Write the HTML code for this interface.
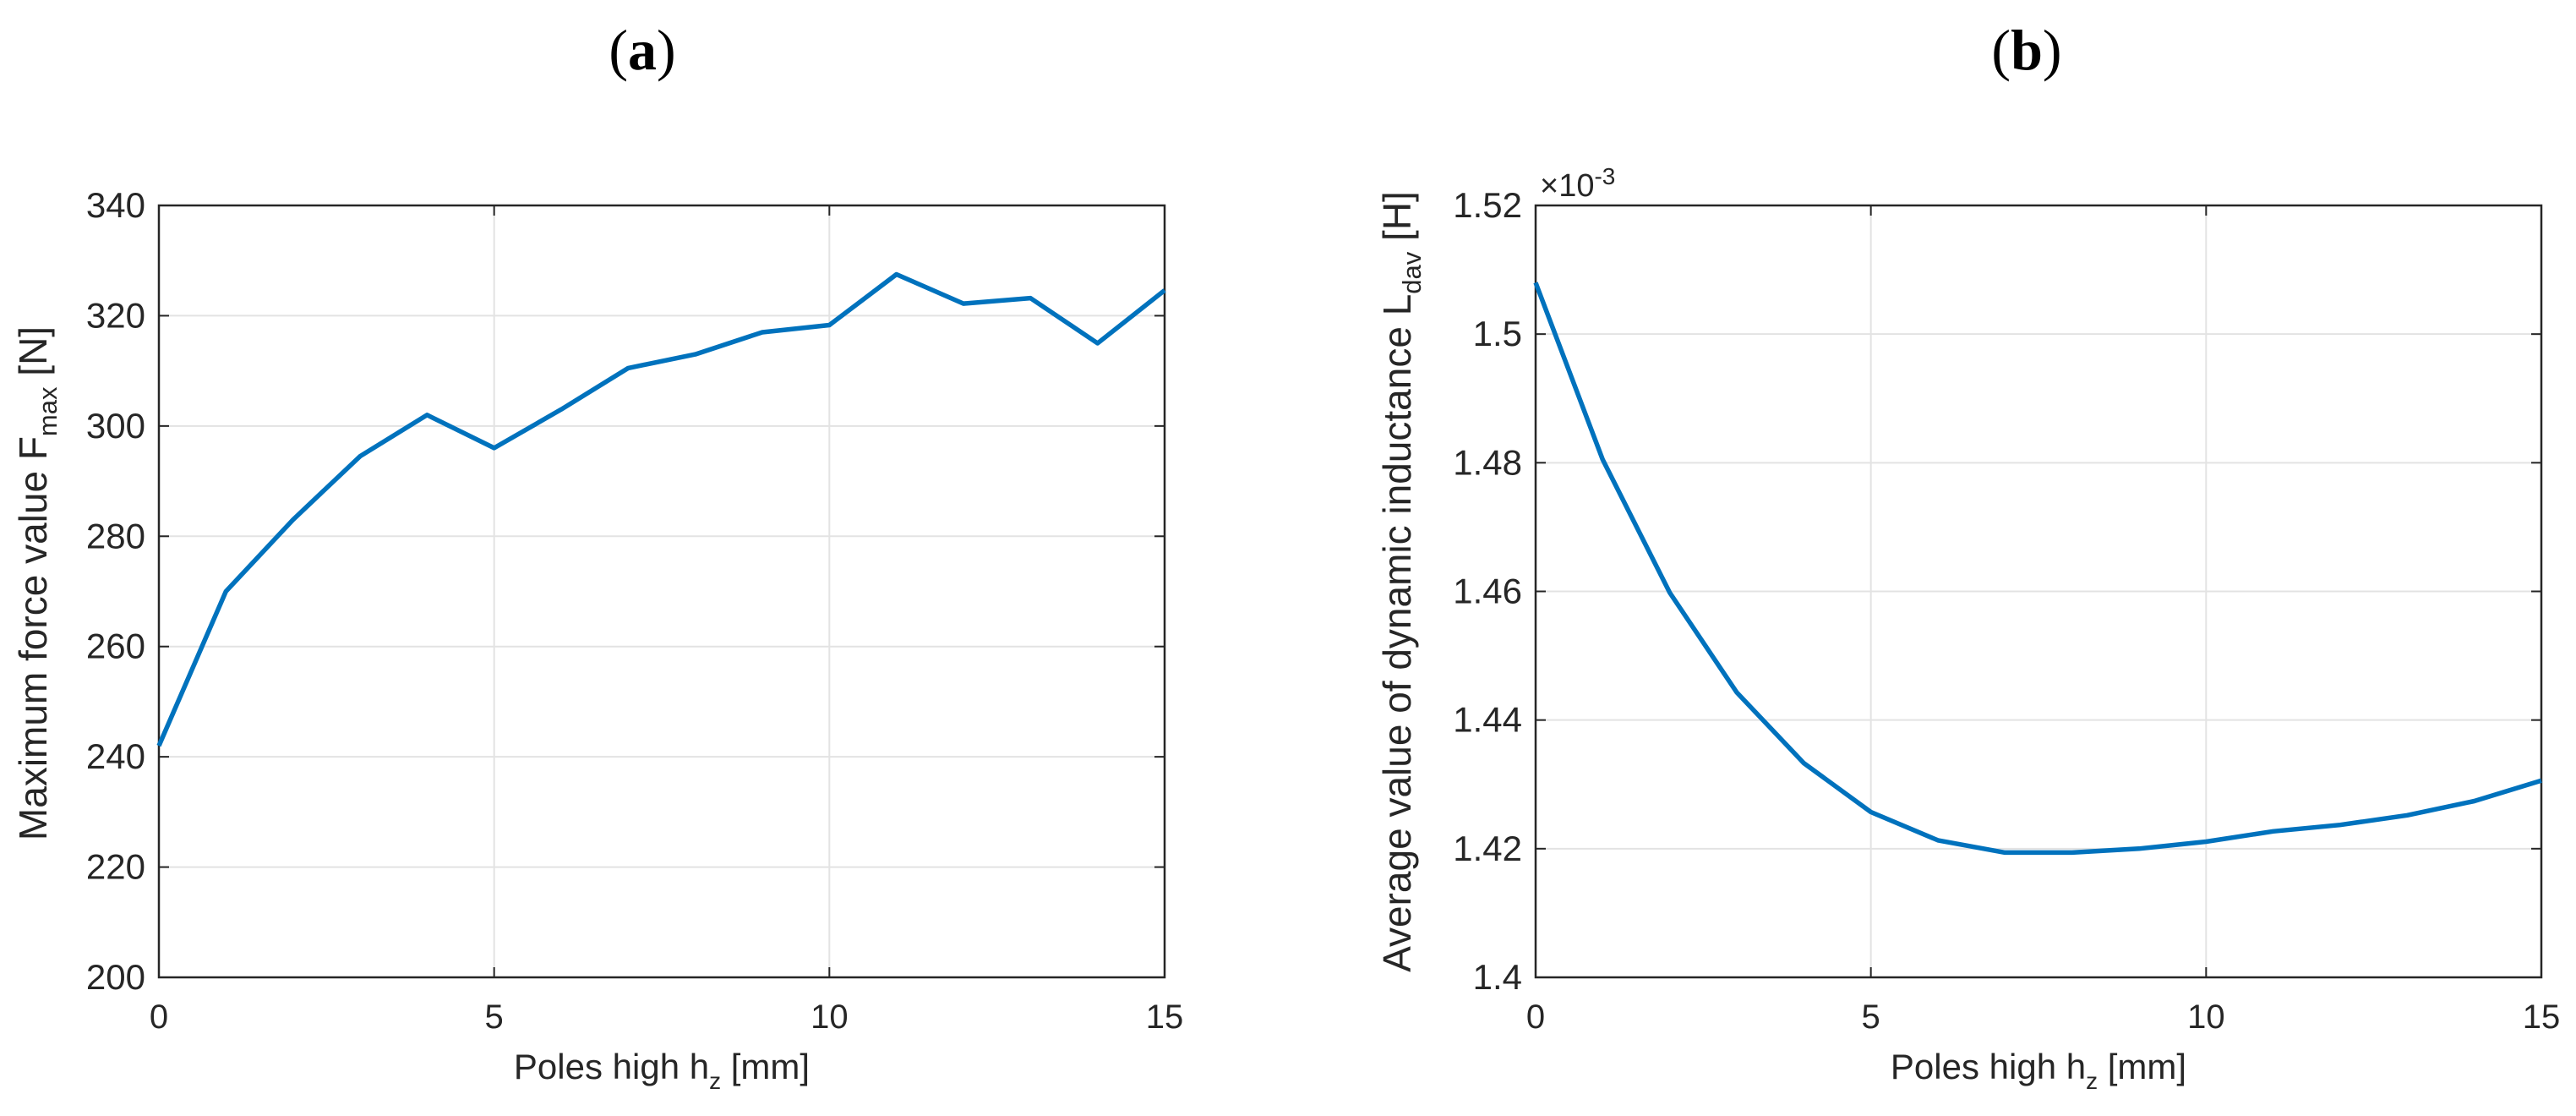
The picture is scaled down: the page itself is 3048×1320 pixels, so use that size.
<!DOCTYPE html>
<html><head><meta charset="utf-8"><style>
html,body{margin:0;padding:0;background:#fff;}
svg{display:block;}
text{font-family:"Liberation Sans",Arial,sans-serif;fill:#262626;}
</style></head><body>
<svg id="fig" width="3048" height="1320" viewBox="0 0 3048 1320" xmlns="http://www.w3.org/2000/svg">
<text x="760" y="82" text-anchor="middle" style="font-family:'Liberation Serif',serif;font-size:68px;fill:#000">(<tspan font-weight="bold">a</tspan>)</text>
<text x="2398" y="82" text-anchor="middle" style="font-family:'Liberation Serif',serif;font-size:68px;fill:#000">(<tspan font-weight="bold">b</tspan>)</text>
<g id="chartA"></g>
<g id="chartB"></g>
</svg>
<script>
const xValues = [0,1,2,3,4,5,6,7,8,9,10,11,12,13,14,15];
const forceValues = [242,270,283,294.5,302,296,303,310.5,313,317,318.3,327.5,322.2,323.2,315,324.6];
const inductanceValues = [1.508,1.4805,1.4598,1.4443,1.4333,1.4257,1.4213,1.4194,1.4194,1.4200,1.4211,1.4227,1.4237,1.4252,1.4274,1.4306];
const xTicks = [0,5,10,15];
const forceTicks = [200,220,240,260,280,300,320,340];
const forceTickLabels = ["200","220","240","260","280","300","320","340"];
const indTicks = [1.40,1.42,1.44,1.46,1.48,1.50,1.52];
const indTickLabels = ["1.4","1.42","1.44","1.46","1.48","1.5","1.52"];

const NS = "http://www.w3.org/2000/svg";
function mk(tag, attrs, parent){
  const e = document.createElementNS(NS, tag);
  for (const k in attrs) e.setAttribute(k, attrs[k]);
  parent.appendChild(e); return e;
}
function drawChart(g, cfg){
  const L=cfg.left, R=cfg.left+1190, T=243, B=1156;
  const sx = v => L + (v - 0) / 15 * (R - L);
  const sy = v => B - (v - cfg.ymin) / (cfg.ymax - cfg.ymin) * (B - T);
  xTicks.forEach(t=>{
    const l = mk('line',{x1:sx(t),x2:sx(t),y1:T,y2:B,stroke:'#e3e3e3','stroke-width':2},g);
    
    
  });
  cfg.yTicks.forEach(t=>{
    const l = mk('line',{x1:L,x2:R,y1:sy(t),y2:sy(t),stroke:'#e3e3e3','stroke-width':2},g);
    
    
  });
  xTicks.forEach(t=>{
    mk('line',{x1:sx(t),x2:sx(t),y1:B,y2:B-12,stroke:'#262626','stroke-width':2},g);
    mk('line',{x1:sx(t),x2:sx(t),y1:T,y2:T+12,stroke:'#262626','stroke-width':2},g);
    const tx = mk('text',{x:sx(t),y:1216,'text-anchor':'middle','font-size':40},g);
    tx.textContent = String(t);
    
    
  });
  cfg.yTicks.forEach((t,i)=>{
    mk('line',{x1:L,x2:L+12,y1:sy(t),y2:sy(t),stroke:'#262626','stroke-width':2},g);
    mk('line',{x1:R,x2:R-12,y1:sy(t),y2:sy(t),stroke:'#262626','stroke-width':2},g);
    const tx = mk('text',{x:L-16,y:sy(t)+14,'text-anchor':'end','font-size':42},g);
    tx.textContent = cfg.yLabels[i];
    
    
  });
  const fr = mk('rect',{x:L,y:T,width:R-L,height:B-T,fill:'none',stroke:'#262626','stroke-width':2.5},g);
  
  
  const pts = xValues.map((x,i)=>sx(x).toFixed(1)+','+sy(cfg.values[i]).toFixed(1)).join(' ');
  const pl = mk('polyline',{points:pts,fill:'none',stroke:'#0072BD','stroke-width':5.5,'stroke-linejoin':'round'},g);
  
  
  const xl = mk('text',{x:(L+R)/2,y:1276,'text-anchor':'middle','font-size':42},g);
  xl.innerHTML = 'Poles high h<tspan dy="12" font-size="28">z</tspan><tspan dy="-12"> [mm]</tspan>';
  
  
  const yl = mk('text',{x:0,y:0,'text-anchor':'middle','font-size':cfg.yFont,transform:'translate('+cfg.ylx+','+cfg.yly+') rotate(-90)'},g);
  yl.innerHTML = cfg.yTitle;
  
  
}
const gA = document.getElementById('chartA');
drawChart(gA,{left:188,ymin:200,ymax:340,yTicks:forceTicks,yLabels:forceTickLabels,values:forceValues,
  ylx:55,yly:690,yFont:46,
  yTitle:'Maximum force value F<tspan dy="12" font-size="31">max</tspan><tspan dy="-12"> [N]</tspan>'});
const gB = document.getElementById('chartB');
drawChart(gB,{left:1817,ymin:1.40,ymax:1.52,yTicks:indTicks,yLabels:indTickLabels,values:inductanceValues,
  ylx:1669,yly:688,yFont:46,
  yTitle:'Average value of dynamic inductance L<tspan dy="12" font-size="31">dav</tspan><tspan dy="-12"> [H]</tspan>'});
const ex = mk('text',{x:1822,y:232,'font-size':38},gB);
ex.innerHTML = '×10<tspan dy="-14" font-size="28">-3</tspan>';


</script>
</body></html>
